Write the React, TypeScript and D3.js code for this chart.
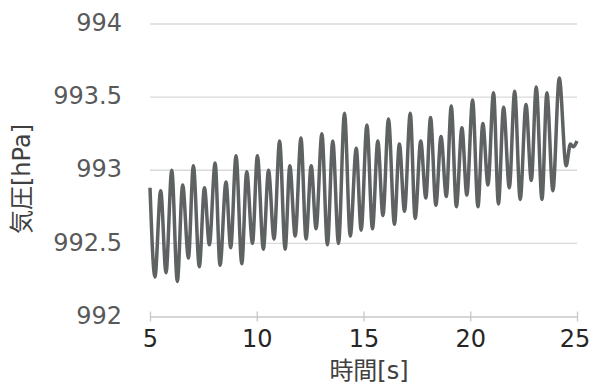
import React, { useRef, useEffect } from "react";
import * as d3 from "d3";

// extrema (time [s], pressure [hPa])
const times = [
  5.0, 5.23, 5.5, 5.75, 6.02, 6.28, 6.53, 6.8, 7.03, 7.31, 7.55, 7.78, 8.05, 8.28, 8.56, 8.78,
  9.03, 9.3, 9.53, 9.8, 10.03, 10.31, 10.55, 10.81, 11.07, 11.33, 11.55, 11.8, 12.07, 12.31,
  12.55, 12.78, 13.05, 13.31, 13.56, 13.83, 14.11, 14.38, 14.66, 14.89, 15.16, 15.42, 15.67,
  15.91, 16.17, 16.45, 16.68, 16.92, 17.19, 17.42, 17.68, 17.92, 18.14, 18.39, 18.63, 18.88,
  19.11, 19.35, 19.61, 19.84, 20.11, 20.36, 20.59, 20.83, 21.09, 21.32, 21.56, 21.83, 22.08,
  22.34, 22.61, 22.86, 23.09, 23.36, 23.59, 23.87, 24.17, 24.49, 24.69, 24.82, 25.0,
];
const pressure = [
  992.88, 992.27, 992.86, 992.3, 993.0, 992.24, 992.9, 992.4, 993.03, 992.34, 992.88, 992.49,
  993.05, 992.35, 992.92, 992.47, 993.1, 992.36, 992.99, 992.5, 993.1, 992.46, 993.0, 992.53,
  993.2, 992.46, 993.03, 992.55, 993.22, 992.53, 993.03, 992.6, 993.25, 992.49, 993.2, 992.5,
  993.39, 992.55, 993.15, 992.59, 993.31, 992.6, 993.2, 992.69, 993.35, 992.63, 993.18, 992.72,
  993.39, 992.67, 993.2, 992.81, 993.36, 992.76, 993.23, 992.82, 993.44, 992.75, 993.29,
  992.83, 993.48, 992.75, 993.32, 992.9, 993.53, 992.77, 993.43, 992.88, 993.54, 992.8, 993.45,
  992.93, 993.57, 992.8, 993.53, 992.86, 993.63, 993.03, 993.18, 993.16, 993.2,
];
const xTicks = [5, 10, 15, 20, 25];
const yTicks = [992, 992.5, 993, 993.5, 994];

const xTitle = "時間[s]";
const yTitle = "気圧[hPa]";

const App = () => {
  const ref = useRef(null);

  const layout = { width: 591, height: 385, left: 150, right: 577, top: 24, bottom: 316.5 };
  const font = "'DejaVu Sans', 'Noto Sans CJK JP', sans-serif";

  useEffect(() => {
    const svg = d3.select(ref.current);
    svg.selectAll("*").remove();

    const x = d3.scaleLinear().domain([5, 25]).range([layout.left, layout.right]);
    const y = d3.scaleLinear().domain([992, 994]).range([layout.bottom, layout.top]);

    // horizontal gridlines
    svg.append("g")
      .selectAll("line")
      .data(yTicks.filter(d => d !== 992))
      .join("line")
      .attr("x1", layout.left)
      .attr("x2", layout.right)
      .attr("y1", d => y(d))
      .attr("y2", d => y(d))
      .attr("stroke", "#d9d9d9")
      .attr("stroke-width", 1.3);

    // y labels
    svg.append("g")
      .selectAll("text")
      .data(yTicks)
      .join("text")
      .attr("x", 122)
      .attr("y", d => y(d))
      .attr("dy", "0.3em")
      .attr("text-anchor", "end")
      .attr("font-family", font)
      .attr("font-size", 24)
      .attr("fill", "#595959")
      .text(d => d3.format("")(d));

    // x axis
    const xAxis = svg.append("g")
      .attr("transform", `translate(0, ${layout.bottom})`)
      .call(d3.axisBottom(x).tickValues(xTicks).tickSize(5).tickSizeOuter(0).tickPadding(8));
    xAxis.select(".domain").attr("stroke", "#c8c8c8").attr("stroke-width", 1.3);
    xAxis.selectAll(".tick line")
      .attr("y1", -5)
      .attr("y2", 5)
      .attr("stroke", "#c8c8c8")
      .attr("stroke-width", 1.3);
    xAxis.selectAll(".tick text")
      .attr("font-family", font)
      .attr("font-size", 24)
      .attr("fill", "#262626")
      .attr("dx", d => (d === 25 ? -2.5 : 0));

    const line = d3.line()
      .x((d, i) => x(times[i]))
      .y(d => y(d))
      .curve(d3.curveMonotoneX);

    svg.append("path")
      .datum(pressure)
      .attr("d", line)
      .attr("fill", "none")
      .attr("stroke", "#5e6262")
      .attr("stroke-width", 3.5)
      .attr("stroke-linejoin", "round");

    svg.append("text")
      .attr("x", 369)
      .attr("y", 379)
      .attr("text-anchor", "middle")
      .attr("font-family", font)
      .attr("font-size", 24)
      .attr("fill", "#404040")
      .text(xTitle);

    svg.append("text")
      .attr("transform", `translate(30, ${179}) rotate(-90)`)
      .attr("text-anchor", "middle")
      .attr("font-family", font)
      .attr("font-size", 24)
      .attr("fill", "#404040")
      .text(yTitle);
  }, []);

  return (
    <svg
      ref={ref}
      width={layout.width}
      height={layout.height}
      style={{ position: "absolute", left: 0, top: 0, background: "#fff" }}
    />
  );
};

export default App;
